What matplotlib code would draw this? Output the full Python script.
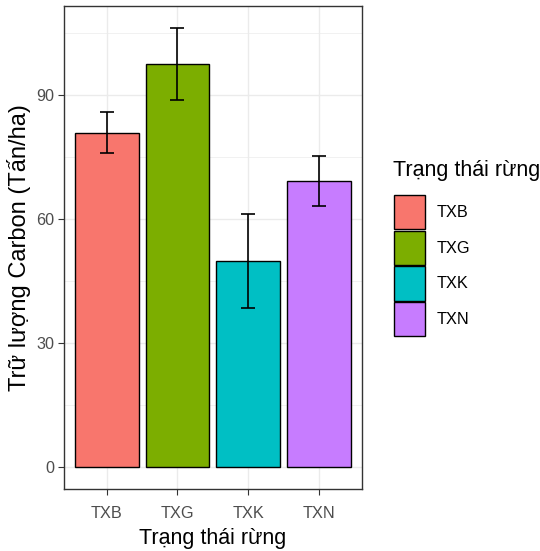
import numpy as np
import matplotlib.pyplot as plt
from matplotlib.patches import Patch

plt.rcParams['font.family'] = ['Liberation Sans', 'DejaVu Sans']

categories = ['TXB', 'TXG', 'TXK', 'TXN']
carbon_mean = [81.0, 97.7, 49.9, 69.2]
carbon_low = [76.0, 89.0, 38.5, 63.2]
carbon_high = [86.0, 106.4, 61.2, 75.4]
colors = ['#F8766D', '#7CAE00', '#00BFC4', '#C77CFF']
y_ticks = [0, 30, 60, 90]

W, H = 540, 551
fig = plt.figure(figsize=(W / 100, H / 100), dpi=100)
ax = fig.add_axes([64.2 / W, 62 / H, 297.3 / W, 483.3 / H])

x = np.arange(len(categories))
mean = np.array(carbon_mean)
err = [mean - np.array(carbon_low), np.array(carbon_high) - mean]

ax.bar(x, mean, width=0.9, color=colors, edgecolor='black', linewidth=1.0, zorder=3)
ax.errorbar(x, mean, yerr=err, fmt='none', ecolor='black', elinewidth=1.2,
            capsize=4.7, capthick=1.2, zorder=4)

top = max(carbon_high)
ax.set_ylim(-0.05 * top, top * 1.05)
ax.set_xlim(-0.6, len(categories) - 0.4)
ax.set_xticks(x)
ax.set_xticklabels(categories)
ax.set_yticks(y_ticks)
ax.set_yticks([15, 45, 75, 105], minor=True)

ax.grid(which='major', color='#EBEBEB', linewidth=1.0, zorder=0)
ax.grid(which='minor', axis='y', color='#EBEBEB', linewidth=0.5, zorder=0)
ax.set_axisbelow(True)

for s in ax.spines.values():
    s.set_color('#333333')
    s.set_linewidth(1.0)

ax.tick_params(which='major', length=4, width=0.8, color='#333333',
               labelsize=11.7, labelcolor='#4D4D4D')
ax.tick_params(axis='x', pad=8.5)
ax.tick_params(axis='y', pad=3)
ax.tick_params(which='minor', length=0)

ax.set_xlabel('Trạng thái rừng', fontsize=15.5, labelpad=5)
ax.set_ylabel('Trữ lượng Carbon (Tấn/ha)', fontsize=17, labelpad=4)

# legend: title drawn as text so the gap to the keys matches
fig.text(393 / W, 1 - 160 / H, 'Trạng thái rừng', fontsize=15.5, ha='left', va='top')
handles = [Patch(facecolor=c, edgecolor='black', linewidth=1.0) for c in colors]
fig.legend(handles, categories, loc='upper left',
           bbox_to_anchor=(394 / W, 1 - 195 / H), frameon=False, fontsize=11.7,
           borderpad=0, borderaxespad=0, handlelength=1.91, handleheight=2.85,
           labelspacing=0.1, handletextpad=0.72)

fig.savefig('out.png', dpi=100)
